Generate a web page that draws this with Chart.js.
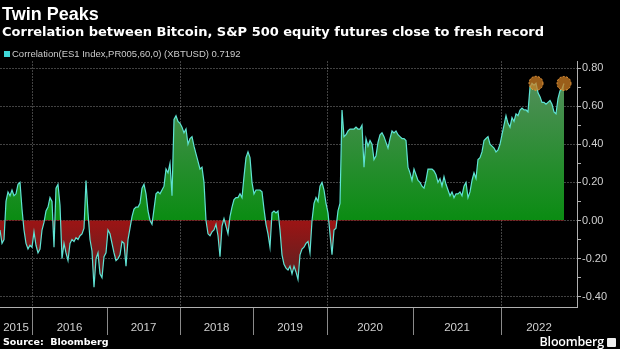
<!DOCTYPE html>
<html lang="en">
<head>
<meta charset="UTF-8">
<title>Twin Peaks</title>
<style>
  body { margin: 0; background: #000; }
  .wrap { position: relative; width: 620px; height: 349px; background: #000; overflow: hidden; color: #fff; font-family: "DejaVu Sans", sans-serif; }
  canvas { position: absolute; left: 0; top: 0; }
  .title { position: absolute; left: 2px; top: 4px; font-family: "Liberation Sans", sans-serif; font-size: 18px; font-weight: bold; }
  .subtitle { position: absolute; left: 2px; top: 24px; font-size: 13px; font-weight: bold; }
  .legend { position: absolute; left: 4px; top: 48px; font-family: "Liberation Sans", sans-serif; font-size: 9.5px; color: #ccc; }
  .legend i { display: inline-block; width: 6px; height: 6px; background: #3fd8d8; margin-right: 2px; }
  .source { position: absolute; left: 3px; top: 336px; font-size: 9.5px; font-weight: bold; }
  .logo { position: absolute; right: 4px; top: 333px; font-family: "Open Sans", sans-serif; font-size: 12.5px; font-weight: 600; letter-spacing: -0.2px; }
  .logo b { display: inline-block; width: 9px; height: 9px; background: #eee; border-radius: 1px; margin-left: 3px; vertical-align: -1px; }
</style>
</head>
<body>
<div class="wrap">
  <canvas id="chart" width="620" height="349"></canvas>
  <div class="title">Twin Peaks</div>
  <div class="subtitle">Correlation between Bitcoin, S&amp;P 500 equity futures close to fresh record</div>
  <div class="legend"><i></i>Correlation(ES1 Index,PR005,60,0) (XBTUSD) 0.7192</div>
  <div class="source">Source:&nbsp; Bloomberg</div>
  <div class="logo">Bloomberg<b></b></div>
</div>

<script src="https://cdn.jsdelivr.net/npm/chart.js"></script>
<script>
// rolling 60-day correlation, one value per sample (~weekly)
const corr = [
  -0.05, -0.12, -0.10, 0.10, 0.15, 0.13, 0.16, 0.13, 0.14, 0.19,
  0.20, 0.06, -0.05, -0.12, -0.15, -0.13, -0.14, -0.06, -0.13, -0.17,
  -0.15, -0.05, -0.01, 0.05, 0.07, 0.12, 0.10, -0.14, 0.17, 0.19,
  0.08, -0.20, -0.12, -0.17, -0.21, -0.12, -0.10, -0.11, -0.09, -0.10,
  -0.08, -0.07, -0.04, 0.21, 0.04, -0.10, -0.16, -0.35, -0.20, -0.17,
  -0.28, -0.30, -0.19, -0.17, -0.05, -0.07, -0.12, -0.17, -0.21, -0.20,
  -0.18, -0.11, -0.12, -0.24, -0.10, -0.04, 0.02, 0.06, 0.07, 0.07,
  0.09, 0.17, 0.19, 0.14, 0.05, 0.00, -0.02, 0.06, 0.14, 0.15,
  0.14, 0.16, 0.18, 0.27, 0.25, 0.30, 0.13, 0.53, 0.55, 0.52,
  0.51, 0.49, 0.46, 0.48, 0.40, 0.43, 0.44, 0.39, 0.35, 0.31,
  0.27, 0.28, 0.20, 0.00, -0.07, -0.08, -0.06, -0.05, -0.02, -0.08,
  -0.19, -0.03, 0.01, -0.03, -0.07, 0.02, 0.07, 0.11, 0.12, 0.12,
  0.14, 0.12, 0.23, 0.33, 0.36, 0.33, 0.20, 0.14, 0.16, 0.16,
  0.16, 0.15, 0.06, -0.02, -0.07, -0.14, 0.04, 0.05, 0.04, 0.05,
  -0.05, -0.18, -0.23, -0.25, -0.26, -0.24, -0.28, -0.24, -0.27, -0.31,
  -0.18, -0.15, -0.14, -0.12, -0.11, -0.17, 0.00, 0.09, 0.12, 0.10,
  0.18, 0.20, 0.16, 0.09, 0.04, -0.07, -0.18, -0.05, -0.04, 0.05,
  0.09, 0.58, 0.44, 0.45, 0.47, 0.48, 0.48, 0.48, 0.49, 0.48,
  0.48, 0.50, 0.28, 0.43, 0.39, 0.42, 0.40, 0.32, 0.34, 0.41,
  0.45, 0.46, 0.44, 0.41, 0.38, 0.43, 0.47, 0.46, 0.47, 0.45,
  0.44, 0.43, 0.43, 0.42, 0.28, 0.25, 0.21, 0.27, 0.24, 0.21,
  0.20, 0.18, 0.17, 0.21, 0.27, 0.27, 0.27, 0.26, 0.24, 0.20,
  0.22, 0.18, 0.23, 0.19, 0.16, 0.13, 0.15, 0.12, 0.14, 0.14,
  0.15, 0.13, 0.18, 0.20, 0.12, 0.15, 0.21, 0.25, 0.22, 0.32,
  0.33, 0.36, 0.42, 0.43, 0.44, 0.40, 0.39, 0.38, 0.36, 0.37,
  0.40, 0.45, 0.50, 0.55, 0.51, 0.49, 0.54, 0.52, 0.56, 0.55,
  0.58, 0.59, 0.58, 0.58, 0.57, 0.70, 0.72, 0.71, 0.72, 0.67,
  0.65, 0.62, 0.62, 0.61, 0.62, 0.63, 0.61, 0.57, 0.56, 0.64,
  0.68, 0.69, 0.7192
];

// sample index where each new year starts (2016 .. 2022)
const yearStarts = [16, 53.5, 90, 126.5, 163.5, 206.5, 250.5];
const yearLabels = ['2015', '2016', '2017', '2018', '2019', '2020', '2021', '2022'];
const xEnd = 288.5;

const yMin = -0.454;
const yMax = 0.837;
const yTickValues = [-0.4, -0.3, -0.2, -0.1, 0, 0.1, 0.2, 0.3, 0.4, 0.5, 0.6, 0.7, 0.8];

// the two highlighted peaks
const peaks = [268, 282];

const gridColor = 'rgba(255,255,255,0.26)';

function areaGradient(chart) {
  const { ctx, chartArea, scales } = chart;
  if (!chartArea) return null;
  const top = chartArea.top, bottom = chartArea.bottom;
  const z = (scales.y.getPixelForValue(0) - top) / (bottom - top);
  const g = ctx.createLinearGradient(0, top, 0, bottom);
  g.addColorStop(0, '#5c8f64');
  g.addColorStop(z, '#0a8c12');
  g.addColorStop(z, '#9c1414');
  g.addColorStop(1, '#3a2828');
  return g;
}

const yearAxisPlugin = {
  id: 'yearAxis',
  afterDraw(chart) {
    const { ctx, scales } = chart;
    const x = scales.x;
    const bounds = [x.min].concat(yearStarts, [x.max]);
    ctx.save();
    ctx.fillStyle = '#d0d0d0';
    ctx.font = '11.5px "Liberation Sans", sans-serif';
    ctx.textAlign = 'center';
    ctx.textBaseline = 'middle';
    yearLabels.forEach((lab, k) => {
      const cx = (x.getPixelForValue(bounds[k]) + x.getPixelForValue(bounds[k + 1])) / 2;
      ctx.fillText(lab, cx, x.top + 21);
    });
    ctx.restore();
  }
};

const peakPlugin = {
  id: 'peakMarks',
  afterDatasetsDraw(chart) {
    const { ctx, scales } = chart;
    ctx.save();
    peaks.forEach(i => {
      const px = scales.x.getPixelForValue(i);
      const py = scales.y.getPixelForValue(corr[i]);
      ctx.beginPath();
      ctx.arc(px, py, 7, 0, Math.PI * 2);
      ctx.fillStyle = 'rgba(205,125,35,0.75)';
      ctx.fill();
      ctx.setLineDash([2, 1.5]);
      ctx.lineWidth = 1;
      ctx.strokeStyle = '#f2a040';
      ctx.stroke();
    });
    ctx.restore();
  }
};

const ctx = document.getElementById('chart').getContext('2d');
new Chart(ctx, {
  type: 'line',
  data: {
    datasets: [{
      data: corr.map((v, i) => ({ x: i, y: v })),
      borderColor: '#5fe3d4',
      borderWidth: 1.2,
      pointRadius: 0,
      tension: 0,
      fill: 'origin',
      backgroundColor: c => areaGradient(c.chart)
    }]
  },
  options: {
    responsive: false,
    animation: false,
    devicePixelRatio: 1,
    layout: { padding: { top: 61, left: 0, right: 0, bottom: 0 } },
    plugins: { legend: { display: false }, tooltip: { enabled: false } },
    scales: {
      x: {
        type: 'linear',
        min: 0,
        max: xEnd,
        afterBuildTicks: s => { s.ticks = yearStarts.map(v => ({ value: v })); },
        afterFit: s => { s.height = 42; },
        ticks: { display: false },
        grid: {
          color: c => (c.index % 2 === 0 ? gridColor : 'transparent'),
          tickColor: '#8a8a8a',
          tickLength: 28
        },
        border: { color: '#b0b0b0', width: 1, dash: [2, 1] }
      },
      y: {
        position: 'right',
        min: yMin,
        max: yMax,
        afterBuildTicks: s => { s.ticks = yTickValues.map(v => ({ value: v })); },
        afterFit: s => { s.width = 43; },
        ticks: {
          color: '#d0d0d0',
          padding: 1,
          font: { family: '"Liberation Sans", sans-serif', size: 11 },
          callback: v => (Math.round(v * 10) % 2 === 0 ? v.toFixed(2) : '')
        },
        grid: {
          color: c => (Math.round(c.tick.value * 10) % 2 === 0 ? gridColor : 'transparent'),
          tickColor: '#b0b0b0',
          tickLength: 4
        },
        border: { color: '#b0b0b0', width: 1, dash: [2, 1] }
      }
    }
  },
  plugins: [yearAxisPlugin, peakPlugin]
});
</script>
</body>
</html>
